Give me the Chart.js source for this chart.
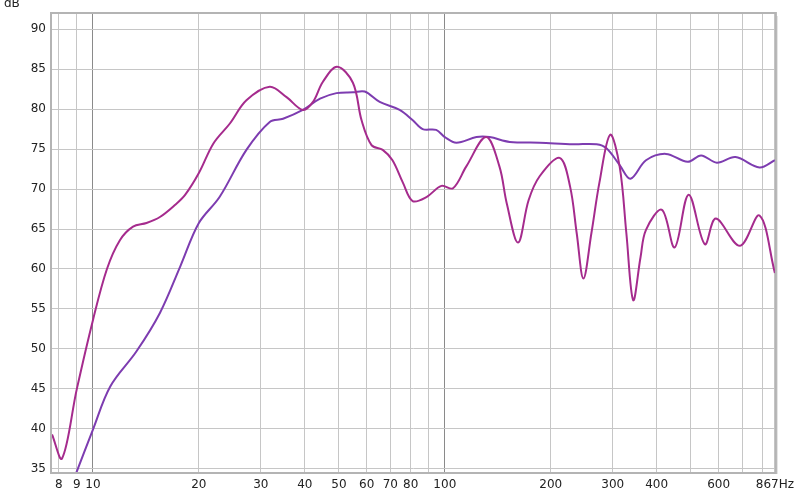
<!DOCTYPE html>
<html lang="en">
<head>
    <meta charset="UTF-8">
    <title>Frequency Response</title>
    <script src="https://cdn.jsdelivr.net/npm/chart.js"></script>
    <style>
        body {
            margin: 0;
            background: #ffffff;
        }
        .wrap {
            width: 800px;
            height: 495px;
            position: relative;
        }
    </style>
</head>
<body>
<div class="wrap">
    <canvas id="responseChart"></canvas>
</div>
<script>
    // frequency (Hz) and level (dB)
    const magentaHz = [7.65, 8.17, 9, 10, 10.96, 11.93, 13, 14.2, 15.5, 17.1, 18.3, 20, 22, 24.5, 27.3, 31.8, 35.5, 39.5, 42.2, 45, 49.4, 54.8, 58, 61.9, 66.6, 71, 76, 81, 88.7, 97.8, 105.5, 115, 131, 143, 150, 161.5, 173, 186, 212, 227, 237, 247.7, 261, 275, 295, 314, 328, 343, 360, 373, 414, 450, 493, 548, 589, 690, 784, 867];
    const magentaDb = [39.3, 36.3, 45, 53.6, 60, 63.6, 65.3, 65.75, 66.5, 68, 69.3, 72, 75.7, 78.2, 81.1, 82.8, 81.5, 79.9, 80.9, 83.4, 85.3, 83.3, 78.6, 75.5, 74.9, 73.6, 70.8, 68.5, 69, 70.4, 70.1, 72.8, 76.5, 72.8, 68.2, 63.3, 68.6, 71.6, 73.9, 70.3, 64.5, 58.8, 64.5, 70.8, 76.8, 72.8, 64.5, 56.1, 61.5, 64.9, 67.4, 62.7, 69.3, 63.1, 66.3, 62.9, 66.7, 59.5];

    const purpleHz = [8.8, 8.95, 10, 11.2, 13.3, 15.5, 17.7, 20, 22.9, 27.3, 31.8, 34.7, 39.5, 44.2, 49.2, 54.9, 59.2, 65.3, 74.4, 81.1, 86.5, 94.5, 100, 107.9, 123, 134, 153, 186, 232, 270, 288, 314, 337, 373, 425, 490, 535, 593, 670, 784, 867];
    const purpleDb = [33.5, 34.4, 39.9, 45.3, 49.7, 54.5, 60.3, 65.75, 69, 74.9, 78.4, 78.8, 79.9, 81.3, 82, 82.1, 82.2, 80.9, 79.9, 78.6, 77.5, 77.4, 76.5, 75.8, 76.5, 76.5, 75.9, 75.8, 75.6, 75.6, 75.1, 73, 71.3, 73.6, 74.4, 73.4, 74.2, 73.3, 74, 72.7, 73.6];

    const xTickValues = [8, 9, 10, 20, 30, 40, 50, 60, 70, 80, 90, 100, 200, 300, 400, 500, 600, 700, 800, 867];
    const xTickLabels = ['8', '9', '10', '20', '30', '40', '50', '60', '70', '80', '', '100', '200', '300', '400', '', '600', '', '', '867Hz'];
    const yTickValues = [35, 40, 45, 50, 55, 60, 65, 70, 75, 80, 85, 90];

    function toPoints(xs, ys) {
        return xs.map((x, i) => ({x: x, y: ys[i]}));
    }

    // grey bevel frame round the plot and the dB unit label
    const framePlugin = {
        id: 'frame',
        afterDraw(chart) {
            const c = chart.ctx;
            const a = chart.chartArea;
            c.save();
            c.strokeStyle = '#e2e2e2';
            c.lineWidth = 2;
            c.beginPath();
            c.moveTo(a.right + 2, a.top + 2);
            c.lineTo(a.right + 2, a.bottom + 2);
            c.stroke();
            c.strokeStyle = '#b4b4b4';
            c.lineWidth = 2;
            c.strokeRect(a.left - 1, a.top - 1, a.right - a.left + 2, a.bottom - a.top + 2);
            c.fillStyle = '#222';
            c.font = '12px "DejaVu Sans"';
            c.textBaseline = 'alphabetic';
            c.fillText('dB', 4, 7);
            c.restore();
        }
    };

    const ctx = document.getElementById('responseChart').getContext('2d');
    new Chart(ctx, {
        type: 'line',
        data: {
            datasets: [
                {
                    label: 'Measurement A',
                    data: toPoints(magentaHz, magentaDb),
                    borderColor: '#a52b8d',
                    borderWidth: 2,
                    pointRadius: 0,
                    tension: 0.35,
                    fill: false
                },
                {
                    label: 'Measurement B',
                    data: toPoints(purpleHz, purpleDb),
                    borderColor: '#7d3cb0',
                    borderWidth: 2,
                    pointRadius: 0,
                    tension: 0.35,
                    fill: false
                }
            ]
        },
        options: {
            responsive: true,
            maintainAspectRatio: false,
            animation: false,
            layout: {
                padding: {top: 14, right: 25, left: 0, bottom: 0}
            },
            plugins: {
                legend: {display: false},
                tooltip: {enabled: false}
            },
            scales: {
                x: {
                    type: 'logarithmic',
                    min: 7.65,
                    max: 867,
                    afterBuildTicks: scale => {
                        scale.ticks = xTickValues.map(v => ({value: v}));
                    },
                    afterFit: scale => {
                        scale.height = 23;
                    },
                    grid: {
                        drawTicks: false,
                        color: c => (c.tick && (c.tick.value === 10 || c.tick.value === 100)) ? '#8a8a8a' : '#c6c6c6'
                    },
                    border: {display: false},
                    ticks: {
                        autoSkip: false,
                        maxRotation: 0,
                        padding: 6,
                        color: '#222',
                        font: {family: 'DejaVu Sans', size: 12},
                        callback: function (value, index) {
                            return xTickLabels[index];
                        }
                    }
                },
                y: {
                    type: 'linear',
                    min: 34.6,
                    max: 91.9,
                    afterBuildTicks: scale => {
                        scale.ticks = yTickValues.map(v => ({value: v}));
                    },
                    afterFit: scale => {
                        scale.width = 52;
                    },
                    grid: {
                        drawTicks: false,
                        color: '#c6c6c6'
                    },
                    border: {display: false},
                    ticks: {
                        padding: 6,
                        color: '#222',
                        font: {family: 'DejaVu Sans', size: 12}
                    }
                }
            }
        },
        plugins: [framePlugin]
    });
</script>
</body>
</html>
